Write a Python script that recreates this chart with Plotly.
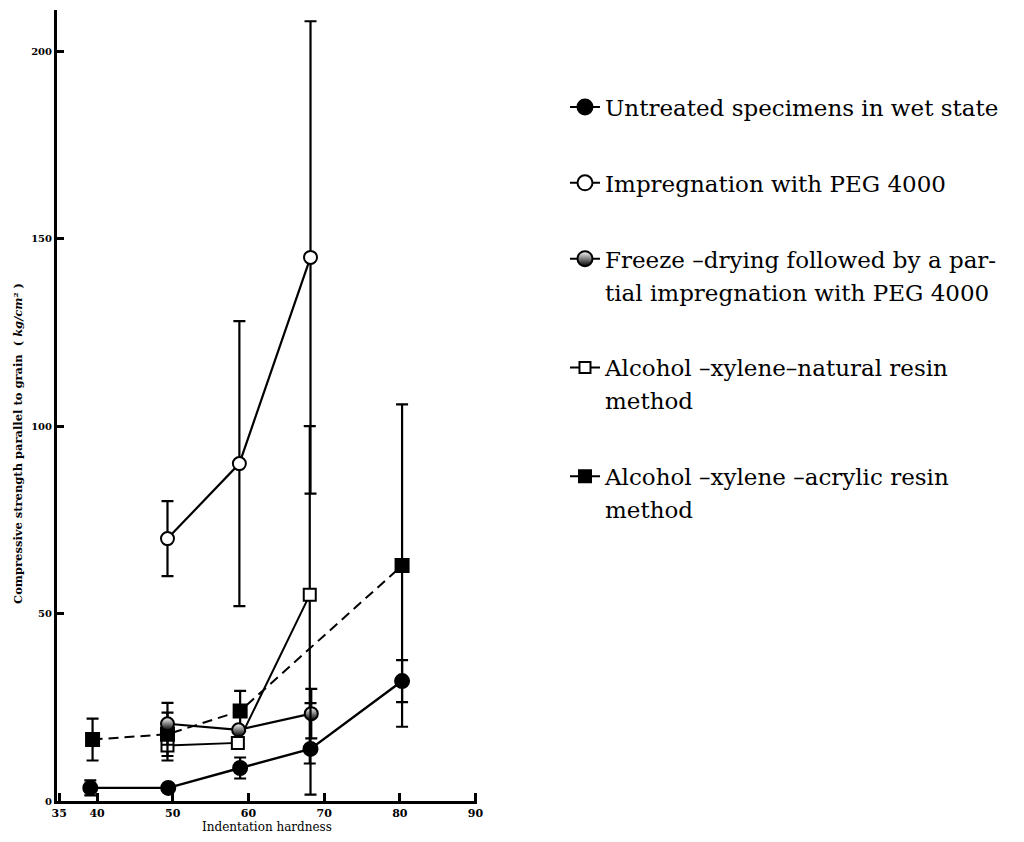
import plotly.graph_objects as go

# ---- data ----
untreated_x = [39.1, 49.4, 58.9, 68.2, 80.3]
untreated_y = [3.5, 3.5, 8.8, 13.9, 32.0]
untreated_err = [2.0, 0.0, 2.8, 12.2, 5.6]

peg_x = [49.3, 58.8, 68.2]
peg_y = [70.0, 90.0, 145.0]
peg_err = [10.0, 38.0, 63.0]

freeze_x = [49.3, 58.7, 68.3]
freeze_y = [20.6, 19.0, 23.3]
freeze_err = [5.6, 0.0, 6.6]

natural_x = [49.3, 58.6, 68.1]
natural_y = [14.8, 15.5, 55.0]
natural_err = [4.0, 0.0, 45.0]

acrylic_x = [39.4, 49.3, 58.9, 80.3]
acrylic_y = [16.4, 17.8, 24.0, 62.8]
acrylic_err = [5.6, 5.8, 5.4, 43.0]

x_ticks = [35, 40, 50, 60, 70, 80, 90]
y_ticks = [0, 50, 100, 150, 200]

legend_lines = [
    ("Untreated specimens in wet state", None),
    ("Impregnation with PEG 4000", None),
    ("Freeze –drying followed by a par-", "tial impregnation with PEG 4000"),
    ("Alcohol –xylene–natural resin", "method"),
    ("Alcohol –xylene –acrylic resin", "method"),
]

y_title = "Compressive strength parallel to grain  ( <i>kg/cm²</i> )"
x_title = "Indentation hardness"

BLACK = "black"
SERIF = "DejaVu Serif"

fig = go.Figure()


def err(arr):
    return dict(type="data", array=arr, symmetric=True, color=BLACK,
                thickness=2.2, width=6)


marker_line = dict(color=BLACK, width=2)

# data traces
fig.add_trace(go.Scatter(
    x=natural_x, y=natural_y, mode="lines+markers", showlegend=False,
    line=dict(color=BLACK, width=2),
    marker=dict(symbol="square", size=12, color="white", line=marker_line),
    error_y=err(natural_err)))
fig.add_trace(go.Scatter(
    x=acrylic_x, y=acrylic_y, mode="lines+markers", showlegend=False,
    line=dict(color=BLACK, width=2, dash="10px,6px"),
    marker=dict(symbol="square", size=13, color=BLACK, line=marker_line),
    error_y=err(acrylic_err)))
fig.add_trace(go.Scatter(
    x=peg_x, y=peg_y, mode="lines+markers", showlegend=False,
    line=dict(color=BLACK, width=2.2),
    marker=dict(symbol="circle", size=13, color="white", line=marker_line),
    error_y=err(peg_err)))
fig.add_trace(go.Scatter(
    x=freeze_x, y=freeze_y, mode="lines+markers", showlegend=False,
    line=dict(color=BLACK, width=2.2),
    marker=dict(symbol="circle", size=13, color="white", line=marker_line,
                gradient=dict(type="vertical", color=BLACK)),
    error_y=err(freeze_err)))
fig.add_trace(go.Scatter(
    x=untreated_x, y=untreated_y, mode="lines+markers", showlegend=False,
    line=dict(color=BLACK, width=2.4),
    marker=dict(symbol="circle", size=14, color=BLACK, line=marker_line),
    error_y=err(untreated_err)))

# legend proxies
legend_markers = [
    dict(symbol="circle", size=15, color=BLACK, line=marker_line),
    dict(symbol="circle", size=15, color="white", line=marker_line),
    dict(symbol="circle", size=15, color="white", line=marker_line,
         gradient=dict(type="vertical", color=BLACK)),
    dict(symbol="square", size=11, color="white", line=marker_line),
    dict(symbol="square", size=12, color=BLACK, line=marker_line),
]
for i, ((l1, l2), mk) in enumerate(zip(legend_lines, legend_markers)):
    grp = "g%d" % i
    fig.add_trace(go.Scatter(
        x=[None], y=[None], mode="lines+markers", name=l1, legendgroup=grp,
        line=dict(color=BLACK, width=2), marker=mk, hoverinfo="skip"))
    if l2:
        fig.add_trace(go.Scatter(
            x=[None], y=[None], mode="lines", name=l2, legendgroup=grp,
            line=dict(color="rgba(0,0,0,0)", width=0), hoverinfo="skip"))

# page has an 8px body margin; figure sized to fit inside the window
fig.update_layout(
    width=1008, height=826,
    margin=dict(l=49, r=539, t=2, b=33, autoexpand=False),
    paper_bgcolor="white", plot_bgcolor="white",
    font=dict(family=SERIF, color=BLACK),
    legend=dict(
        x=1.2095, xanchor="left", y=0.9046, yanchor="top",
        traceorder="grouped", tracegroupgap=43,
        font=dict(family=SERIF, size=23, color=BLACK),
        bgcolor="rgba(0,0,0,0)", itemclick=False, itemdoubleclick=False),
    xaxis=dict(
        range=[34.7, 90.2], tickvals=x_ticks, ticktext=[str(v) for v in x_ticks],
        ticks="inside", ticklen=8, tickwidth=2.5, tickcolor=BLACK,
        showline=True, linewidth=3, linecolor=BLACK, mirror=False,
        showgrid=False, zeroline=False,
        tickfont=dict(family=SERIF, size=11, color=BLACK, weight="bold"),
        title=dict(text=x_title,
                   font=dict(family=SERIF, size=12, color=BLACK), standoff=1)),
    yaxis=dict(
        range=[0, 211], tickvals=y_ticks, ticktext=[str(v) for v in y_ticks],
        ticks="inside", ticklen=7, tickwidth=2.5, tickcolor=BLACK,
        showline=True, linewidth=3, linecolor=BLACK,
        showgrid=False, zeroline=False,
        tickfont=dict(family=SERIF, size=10, color=BLACK, weight="bold")),
    annotations=[dict(
        text=y_title, textangle=-90, showarrow=False,
        xref="paper", yref="paper", x=-0.0929, y=0.4526,
        xanchor="center", yanchor="middle",
        font=dict(family=SERIF, size=11.5, color=BLACK, weight="bold"))],
)

fig.write_html("out.html")
